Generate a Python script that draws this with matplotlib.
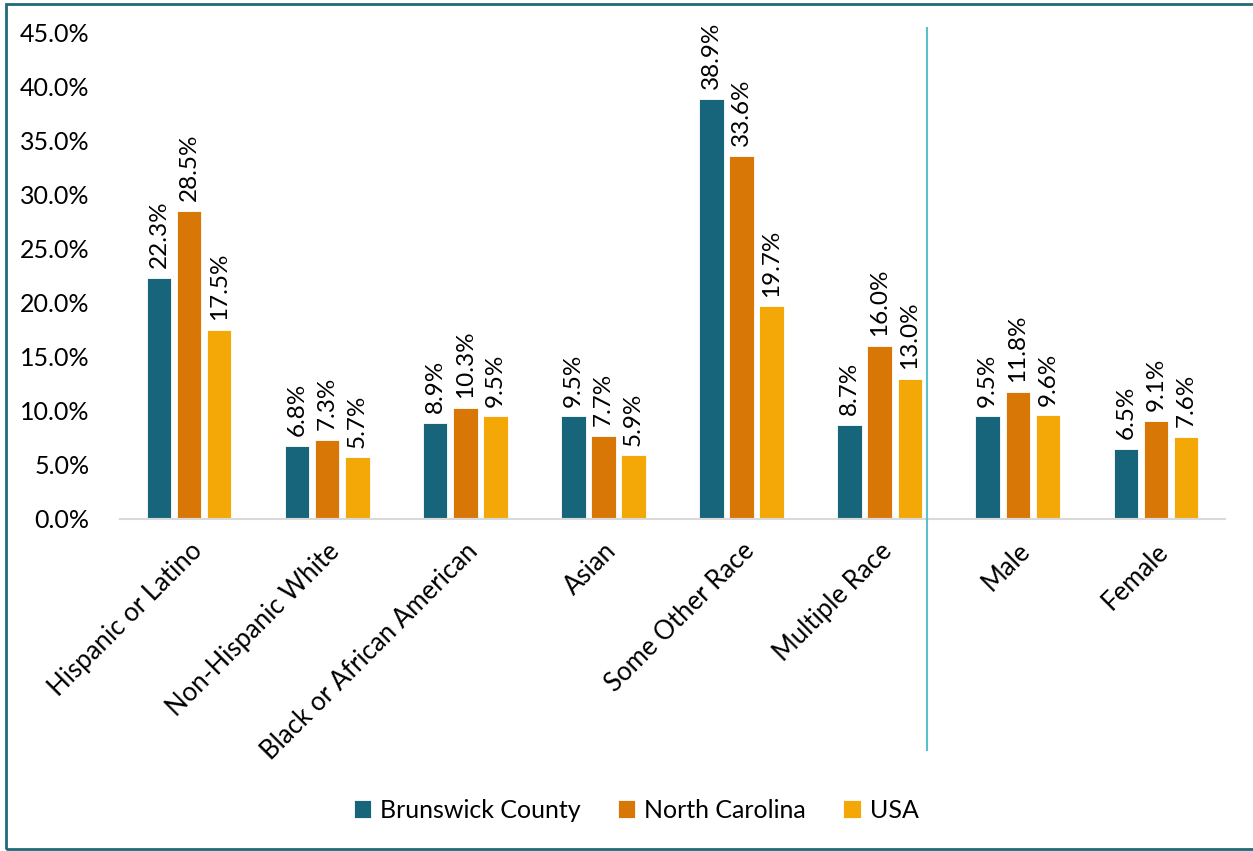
import matplotlib
matplotlib.use("Agg")
import matplotlib.pyplot as plt
import numpy as np
from matplotlib.patches import Rectangle
from matplotlib.lines import Line2D

plt.rcParams['font.family'] = ['Lato', 'DejaVu Sans']

categories = ["Hispanic or Latino", "Non-Hispanic White", "Black or African American",
              "Asian", "Some Other Race", "Multiple Race", "Male", "Female"]
series_names = ["Brunswick County", "North Carolina", "USA"]
brunswick = [22.3, 6.8, 8.9, 9.5, 38.9, 8.7, 9.5, 6.5]
north_carolina = [28.5, 7.3, 10.3, 7.7, 33.6, 16.0, 11.8, 9.1]
usa = [17.5, 5.7, 9.5, 5.9, 19.7, 13.0, 9.6, 7.6]
colors = ["#17657A", "#D97706", "#F4A807"]
yticks = [0, 5, 10, 15, 20, 25, 30, 35, 40, 45]

W, H = 1253, 851
fig = plt.figure(figsize=(W/100, H/100), dpi=100)
ax = fig.add_axes([120/W, 1-519/H, (1225-120)/W, (519-33)/H])

x = np.arange(len(categories))
bw = 0.178
off = 0.218
for i, (vals, c) in enumerate(zip([brunswick, north_carolina, usa], colors)):
    pos = x + (i-1)*off
    ax.bar(pos, vals, width=bw, color=c, edgecolor='white', linewidth=0.6,
           label=series_names[i], zorder=2)
    for p, v in zip(pos, vals):
        ax.annotate(f"{v:.1f}%", (p, v), xytext=(0, 7), textcoords='offset points',
                    rotation=90, ha='center', va='bottom', fontsize=17.5, color='black')

ax.set_xlim(-0.5, 7.5)
ax.set_ylim(0, 45)
ax.set_yticks(yticks)
ax.set_yticklabels([f"{t:.1f}%" for t in yticks], fontsize=18)
ax.set_xticks(x)
ax.set_xticklabels(categories, rotation=45, ha='right', rotation_mode='anchor', fontsize=18.5)
ax.tick_params(axis='both', length=0)
ax.tick_params(axis='y', pad=22)
ax.tick_params(axis='x', pad=14)
for s in ['top', 'right', 'left']:
    ax.spines[s].set_visible(False)
ax.spines['bottom'].set_color('#D9D9D9')
ax.spines['bottom'].set_linewidth(1.5)

# vertical divider line
fig.add_artist(Line2D([927/W, 927/W], [1-28/H, 1-750/H], color='#5BBFCC', lw=1.5))

# figure border
fig.add_artist(Rectangle((6/W, 2/H), 1.2, 1-6/H, transform=fig.transFigure,
                         fill=False, edgecolor='#1F6A7A', lw=2))

fig.legend(loc='center', bbox_to_anchor=(636/W, 1-810/H), ncol=3, frameon=False,
           fontsize=18, handlelength=0.7, handleheight=0.7, handletextpad=0.35,
           columnspacing=1.5)

fig.savefig("out.png", dpi=100)
